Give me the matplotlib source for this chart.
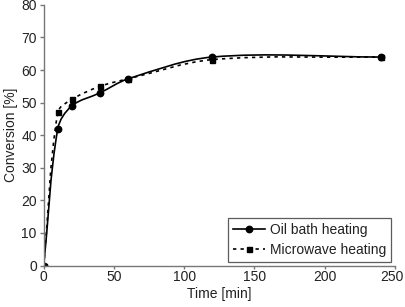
import matplotlib
matplotlib.use("Agg")
import matplotlib.pyplot as plt
from matplotlib.path import Path
from matplotlib.patches import PathPatch
from matplotlib.lines import Line2D
from matplotlib.transforms import ScaledTranslation
import numpy as np

plt.rcParams['font.family'] = ['Liberation Sans', 'DejaVu Sans']

time_min = [0, 10, 20, 40, 60, 120, 240]
oil_bath = [0, 42, 49, 53, 57.3, 64, 64]
microwave = [0, 47, 51, 55, 57.3, 63.2, 64]


def smooth_path(x, y, sx=351 / 250.0, sy=261 / 80.0):
    # smoothed line like a spreadsheet chart: bezier segments, tangents taken
    # in (roughly) screen space, handle length a third of the segment
    p = np.column_stack([np.asarray(x) * sx, np.asarray(y) * sy]).astype(float)
    n = len(p)
    d = []
    for i in range(n):
        a = p[max(i - 1, 0)]
        b = p[min(i + 1, n - 1)]
        v = b - a
        d.append(v / np.hypot(*v))
    verts = [p[0]]
    codes = [Path.MOVETO]
    for i in range(n - 1):
        L = np.hypot(*(p[i + 1] - p[i]))
        c1 = p[i] + d[i] * L / 3.0
        c2 = p[i + 1] - d[i + 1] * L / 3.0
        verts += [c1, c2, p[i + 1]]
        codes += [Path.CURVE4] * 3
    verts = np.array(verts) / [sx, sy]
    return Path(verts, codes)


fig = plt.figure(figsize=(4.05, 3.07), dpi=100)
ax = fig.add_axes([0.108, 0.135, 0.867, 0.849])

ax.add_patch(PathPatch(smooth_path(time_min, oil_bath), fill=False,
                       edgecolor='black', linewidth=1.2))
ax.add_patch(PathPatch(smooth_path(time_min, microwave), fill=False,
                       edgecolor='black', linewidth=1.2, linestyle=(0, (2.0, 2.5))))
ax.plot(time_min, microwave, linestyle='none', marker='s', markersize=3.6, color='black')
ax.plot(time_min, oil_bath, linestyle='none', marker='o', markersize=4.6, color='black')

ax.set_xlim(0, 250)
ax.set_ylim(0, 80)
ax.set_xticks(range(0, 251, 50))
ax.set_yticks(range(0, 81, 10))
ax.set_xlabel('Time [min]', fontsize=10, color='#222222', labelpad=2)
ax.set_ylabel('Conversion [%]', fontsize=10, color='#222222', labelpad=2)

for s in ['top', 'right']:
    ax.spines[s].set_visible(False)
for s in ['left', 'bottom']:
    ax.spines[s].set_color('#777777')
    ax.spines[s].set_linewidth(1.0)
ax.tick_params(axis='both', direction='out', width=1.0, color='#777777',
               labelsize=10, labelcolor='#222222')
ax.tick_params(axis='x', length=2.5, pad=0.8)
ax.tick_params(axis='y', length=3, pad=2)

# last x label would run off the figure edge, pull it in a little
fig.canvas.draw()
last = ax.get_xticklabels()[-1]
last.set_transform(last.get_transform() + ScaledTranslation(-2 / 72, 0, fig.dpi_scale_trans))

handles = [
    Line2D([], [], color='black', linewidth=1.2, marker='o', markersize=4.6),
    Line2D([], [], color='black', linewidth=1.2, linestyle=(0, (2.0, 2.5)),
           marker='s', markersize=3.6),
]
leg = ax.legend(handles, ['Oil bath heating', 'Microwave heating'], loc='lower right',
                fontsize=10, frameon=True, fancybox=False, edgecolor='#333333',
                handlelength=2.3, handletextpad=0.4, borderaxespad=0.25,
                borderpad=0.35, labelspacing=0.45)
leg.get_frame().set_linewidth(0.9)
for t in leg.get_texts():
    t.set_color('#222222')

fig.savefig('out.png', dpi=100)
